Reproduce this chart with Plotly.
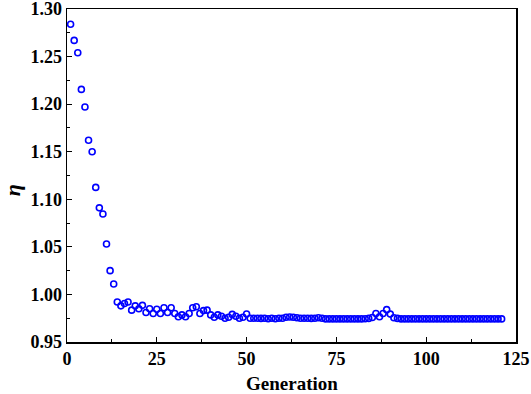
import plotly.graph_objects as go

generation = list(range(1, 122))
eta = [
    1.284, 1.267, 1.254, 1.2155, 1.197, 1.162, 1.150, 1.1125, 1.091, 1.0845,
    1.053, 1.025, 1.011, 0.992, 0.988, 0.9905, 0.992, 0.9835, 0.988, 0.985,
    0.9885, 0.981, 0.985, 0.980, 0.9845, 0.980, 0.986, 0.981, 0.986, 0.980,
    0.9765, 0.9785, 0.9765, 0.980, 0.986, 0.987, 0.980, 0.983, 0.9835, 0.9785,
    0.976, 0.9785, 0.977, 0.975, 0.976, 0.979, 0.977, 0.975, 0.976, 0.9795,
    0.975, 0.975, 0.975, 0.9748, 0.975, 0.9745, 0.975, 0.9745, 0.975, 0.975,
    0.976, 0.9762, 0.976, 0.9755, 0.975, 0.975, 0.975, 0.9748, 0.975, 0.9755,
    0.975, 0.9743, 0.9743, 0.9743, 0.9743, 0.9743, 0.9743, 0.9743, 0.9743, 0.9743,
    0.9743, 0.9743, 0.9745, 0.9748, 0.9758, 0.980, 0.9765, 0.980, 0.984, 0.9793,
    0.9755, 0.9748, 0.9743, 0.9743, 0.9743, 0.9743, 0.9743, 0.9743, 0.9743, 0.9743,
    0.9743, 0.9743, 0.9743, 0.9743, 0.9743, 0.9743, 0.9743, 0.9743, 0.9743, 0.9743,
    0.9743, 0.9743, 0.9743, 0.9743, 0.9743, 0.9743, 0.9743, 0.9743, 0.9743, 0.9743,
    0.9743,
]
x_ticks = [0, 25, 50, 75, 100, 125]
y_ticks = [0.95, 1.00, 1.05, 1.10, 1.15, 1.20, 1.25, 1.30]
x_title = "Generation"
y_title = "η"

font_family = "Liberation Serif"

fig = go.Figure(
    go.Scatter(
        x=generation, y=eta, mode="markers",
        marker=dict(symbol="circle-open", size=6, color="#0000FF",
                    line=dict(width=1.6, color="#0000FF")),
        cliponaxis=False,
    )
)

axis_common = dict(
    showgrid=False, zeroline=False, showline=True, linecolor="black",
    linewidth=1.5, mirror=True, ticks="inside", tickcolor="black",
    ticklen=5, tickwidth=1.2, automargin=False, ticklabeloverflow="allow",
    tickfont=dict(family=font_family, size=18, color="black", weight="bold"),
)

fig.update_layout(
    width=531, height=394,
    margin=dict(l=67, r=15, t=9, b=52),
    paper_bgcolor="white", plot_bgcolor="white",
    showlegend=False,
    font=dict(family=font_family, color="black"),
    xaxis=dict(
        range=[0, 125], tickvals=x_ticks, ticktext=[str(v) for v in x_ticks],
        minor=dict(ticks="inside", ticklen=3, tickcolor="black", tickwidth=1,
                   dtick=12.5, tick0=0),
        **axis_common,
    ),
    yaxis=dict(
        range=[0.95, 1.30], tickvals=y_ticks,
        ticktext=[f"{v:.2f}" for v in y_ticks],
        minor=dict(ticks="inside", ticklen=3, tickcolor="black", tickwidth=1,
                   dtick=0.025, tick0=0.95),
        **axis_common,
    ),
    annotations=[
        dict(text=f"<b>{x_title}</b>", xref="paper", yref="paper",
             x=0.5, y=-0.126, xanchor="center", yanchor="middle",
             showarrow=False,
             font=dict(family=font_family, size=19, color="black")),
        dict(text=f"<b><i>{y_title}</i></b>", xref="paper", yref="paper",
             x=-0.1225, y=0.456, xanchor="center", yanchor="middle",
             textangle=-90, showarrow=False,
             font=dict(family=font_family, size=22, color="black")),
    ],
)

fig.write_html(
    "out.html",
    config={"displayModeBar": False, "staticPlot": True},
    post_script="document.body.style.margin='0';document.body.style.overflow='hidden';",
)
